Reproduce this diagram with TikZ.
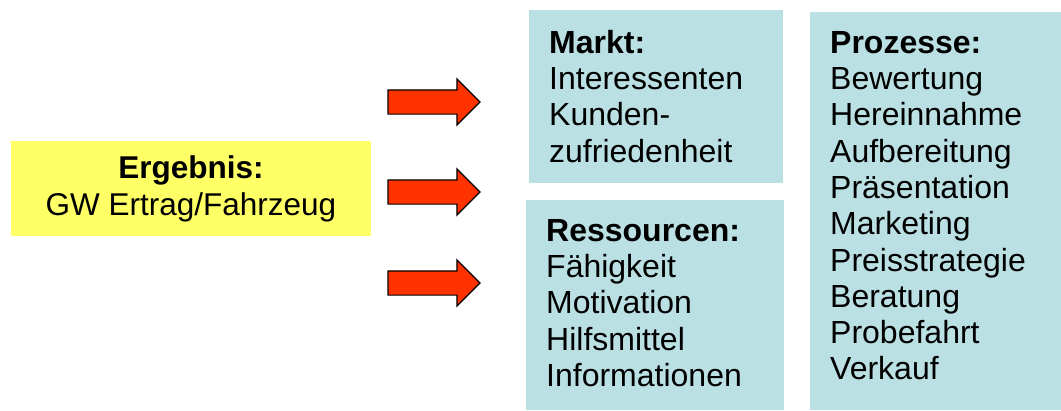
\documentclass[tikz,border=0pt]{standalone}
\usepackage{fontspec}
\setmainfont{Liberation Sans}
\usetikzlibrary{shapes.arrows}
\definecolor{boxblue}{HTML}{BBE0E3}
\definecolor{boxyellow}{HTML}{FFFF66}
\definecolor{arrowred}{HTML}{FF3300}
\begin{document}
\begin{tikzpicture}[x=1pt,y=-1pt,
	bluebox/.style={rectangle, fill=boxblue, draw=none, inner sep=0pt, anchor=north west},
	boxtext/.style={font=\fontsize{32}{36.3}\selectfont, align=left, inner sep=0pt, anchor=north west},
	redarrow/.style={single arrow, fill=arrowred, draw=black, line width=1.2pt, inner xsep=0pt, inner ysep=11.5pt,
		minimum height=92pt, single arrow head extend=11pt}]

\useasboundingbox (0,0) rectangle (1061,410);

% result box
\node[rectangle, fill=boxyellow, inner sep=0pt, minimum width=360pt, minimum height=95pt,
	font=\fontsize{31.5}{37}\selectfont, align=center] (ergebnis) at (191,188.5)
	{\textbf{Ergebnis:}\\GW Ertrag/Fahrzeug};

% arrows
\node[redarrow] (pfeil1) at (428,102) {};
\node[redarrow] (pfeil2) at (428,192) {};
\node[redarrow] (pfeil3) at (428,283) {};

% boxes
\node[bluebox, minimum width=254pt, minimum height=173pt] (markt) at (529,10) {};
\node[bluebox, minimum width=258pt, minimum height=210pt] (ressourcen) at (526,200) {};
\node[bluebox, minimum width=251pt, minimum height=398pt] (prozesse) at (810,12) {};

% texts
\node[boxtext] (markttext) at ([xshift=20pt,yshift=-20pt]markt.north west)
	{\textbf{Markt:}\\Interessenten\\Kunden-\\zufriedenheit};
\node[boxtext] (ressourcentext) at ([xshift=20pt,yshift=-19pt]ressourcen.north west)
	{\textbf{Ressourcen:}\\Fähigkeit\\Motivation\\Hilfsmittel\\Informationen};
\node[boxtext] (prozessetext) at ([xshift=20pt,yshift=-19pt]prozesse.north west)
	{\textbf{Prozesse:}\\Bewertung\\Hereinnahme\\Aufbereitung\\Präsentation\\Marketing\\Preisstrategie\\Beratung\\Probefahrt\\Verkauf};

\end{tikzpicture}
\end{document}
